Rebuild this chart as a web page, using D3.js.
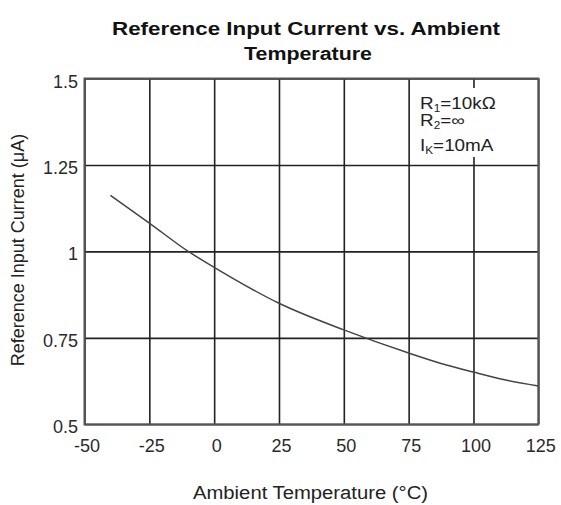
<!DOCTYPE html>
<html><head><meta charset="utf-8">
<script src="https://cdn.jsdelivr.net/npm/d3@7"></script>
<style>body{margin:0;background:#fff;} text{font-family:Arial,"Liberation Sans",sans-serif;}</style>
</head><body><svg id="c" width="561" height="505"></svg>
<script>
// ---- data ----
const temps    = [-40, -25, -10, 0, 25, 50, 75, 87.5, 100, 112.5, 125];
const currents = [1.162, 1.082, 1.0, 0.954, 0.850, 0.773, 0.706, 0.676, 0.651, 0.628, 0.611];
const xTicks = [-50, -25, 0, 25, 50, 75, 100, 125];
const xTickLabels = ["-50", "-25", "0", "25", "50", "75", "100", "125"];
const yTicks = [0.5, 0.75, 1, 1.25, 1.5];
const yTickLabels = ["0.5", "0.75", "1", "1.25", "1.5"];
const titleLines = ["Reference Input Current vs. Ambient", "Temperature"];
const xLabel = "Ambient Temperature (°C)";
const yLabel = "Reference Input Current (μA)";
const legendMain = ["R", "R", "I"];
const legendSub  = ["1", "2", "K"];
const legendRest = ["=10kΩ", "=∞", "=10mA"];

// ---- layout ----
const L = 84.5, R = 538.3, T = 78.5, B = 424.3;
const svg = d3.select("#c");
const x = d3.scaleLinear().domain([-50, 125]).range([L, R]);
const y = d3.scaleLinear().domain([0.5, 1.5]).range([B, T]);

// grid via axes
const gx = svg.append("g").attr("transform", `translate(0,${B})`)
  .call(d3.axisBottom(x).tickValues(xTicks).tickSize(-(B - T)).tickFormat((d,i) => xTickLabels[i]));
gx.select(".domain").remove();
gx.selectAll("line").attr("stroke", "#222").attr("stroke-width", 1.6);
gx.selectAll("text").attr("y", 452 - B).attr("dy", null).attr("dx", 2)
  .attr("font-size", 18).attr("fill", "#2a2a2a").attr("font-family", "Arial, 'Liberation Sans', sans-serif");

const gy = svg.append("g").attr("transform", `translate(${L},0)`)
  .call(d3.axisLeft(y).tickValues(yTicks).tickSize(-(R - L)).tickFormat((d,i) => yTickLabels[i]));
gy.select(".domain").remove();
gy.selectAll("line").attr("stroke", "#222").attr("stroke-width", 1.6);
gy.selectAll("text").attr("x", 78 - L).attr("dy", 8.5)
  .attr("font-size", 18).attr("fill", "#2a2a2a").attr("font-family", "Arial, 'Liberation Sans', sans-serif");

// legend white box (interrupts grid line)
svg.append("rect").attr("x", 416).attr("y", 88).attr("width", 114).attr("height", 69).attr("fill", "#fff");

// frame
svg.append("rect").attr("x", L).attr("y", T).attr("width", R - L).attr("height", B - T)
  .attr("fill", "none").attr("stroke", "#555").attr("stroke-width", 2);

// curve
const pts = temps.map((t, i) => [t, currents[i]]);
svg.append("path").datum(pts)
  .attr("fill", "none").attr("stroke", "#444").attr("stroke-width", 1.5)
  .attr("d", d3.line().x(d => x(d[0])).y(d => y(d[1])).curve(d3.curveMonotoneX));

// legend text
const legY = [109, 126, 151];
legendMain.forEach((m, i) => {
  const t = svg.append("text").attr("transform", `translate(420,${legY[i]}) scale(1.18,1)`)
    .attr("font-size", 16).attr("fill", "#222");
  t.append("tspan").text(m);
  t.append("tspan").attr("font-size", 10).attr("dy", 3).text(legendSub[i]);
  t.append("tspan").attr("dy", -3).text(legendRest[i]);
});

// title
const tl = [[112, 500, 35], [244, 372, 59.5]];
titleLines.forEach((s, i) => {
  svg.append("text").attr("x", tl[i][0]).attr("y", tl[i][2])
    .attr("font-size", 18).attr("font-weight", "bold").attr("fill", "#111")
    .attr("textLength", tl[i][1] - tl[i][0]).attr("lengthAdjust", "spacingAndGlyphs").text(s);
});

// axis labels
svg.append("text").attr("x", 193).attr("y", 499).attr("font-size", 18).attr("fill", "#222")
  .attr("textLength", 235).attr("lengthAdjust", "spacingAndGlyphs").text(xLabel);
svg.append("text").attr("transform", "translate(24,250) rotate(-90)").attr("text-anchor", "middle")
  .attr("font-size", 18).attr("fill", "#222").text(yLabel);
</script></body></html>
